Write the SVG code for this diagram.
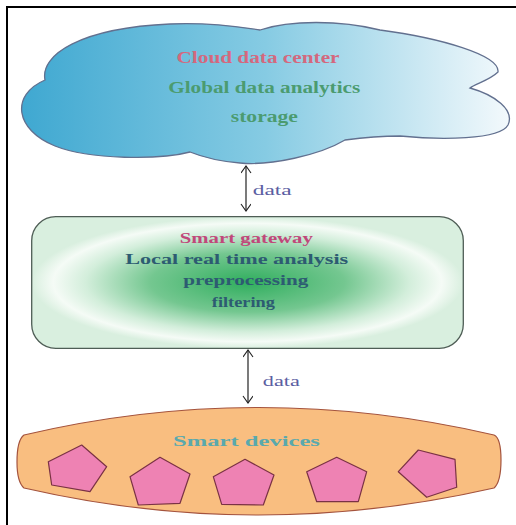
<svg xmlns="http://www.w3.org/2000/svg" width="516" height="525" viewBox="0 0 516 525">
  <defs>
    <linearGradient id="cloudFill" x1="0" y1="0" x2="1" y2="0">
      <stop offset="0" stop-color="#3fa8d1"/>
      <stop offset="0.5" stop-color="#86cbe3"/>
      <stop offset="1" stop-color="#f3f9fc"/>
    </linearGradient>
    <radialGradient id="gatewayFill" cx="0.5" cy="0.5" r="0.5">
      <stop offset="0" stop-color="#30ae5e"/>
      <stop offset="0.45" stop-color="#74c790"/>
      <stop offset="0.75" stop-color="#d3eedb"/>
      <stop offset="0.9" stop-color="#f5fbf6"/>
      <stop offset="1" stop-color="#d9efdf"/>
    </radialGradient>
    <marker id="head" markerWidth="12" markerHeight="12" refX="8" refY="5" orient="auto-start-reverse" markerUnits="userSpaceOnUse">
      <path d="M1,0 L8,5 L1,10" fill="none" stroke="#222" stroke-width="1.1"/>
    </marker>
    <style>
      text { font-family: "Liberation Serif", "Times New Roman", serif; font-weight: bold; text-anchor: middle; }
      .t-cloud { font-size: 16px; }
      .t-gw { font-size: 15px; }
      .t-dev { font-size: 15.5px; fill: #5aa9ad; }
      .t-data { font-size: 15.5px; font-weight: normal; fill: #5b5ea2; }
      .pent { fill: #ee82b3; stroke: #7a3244; stroke-width: 1.2; stroke-linejoin: round; }
      .link { stroke: #222; stroke-width: 1.2; fill: none; marker-start: url(#head); marker-end: url(#head); }
    </style>
  </defs>

  <rect width="516" height="525" fill="#ffffff"/>

  <!-- frame -->
  <path d="M7,525 V7 H516" fill="none" stroke="#000" stroke-width="2"/>

  <g id="cloud-data-center">
    <path d="M45,80 C40,55 80,28 170,24 C215,22 245,28 260,30 C290,20 340,20 380,30 C440,38 500,55 498,72 C490,80 475,84 470,88 C495,95 515,110 508,125 C500,140 440,140 400,136 C385,136 360,138 345,140 C320,155 270,166 240,163 C215,161 200,156 190,152 C160,160 90,160 55,146 C15,130 10,95 45,80 Z" fill="url(#cloudFill)" stroke="#62708f" stroke-width="1.3"/>
    <text class="t-cloud" transform="translate(258,62.5) scale(1.3,1)" textLength="125.4" lengthAdjust="spacingAndGlyphs" fill="#d4687e">Cloud data center</text>
    <text class="t-cloud" transform="translate(264.2,93) scale(1.3,1)" textLength="147.7" lengthAdjust="spacingAndGlyphs" fill="#4b9b70">Global data analytics</text>
    <text class="t-cloud" transform="translate(264.3,122) scale(1.3,1)" textLength="51.5" lengthAdjust="spacingAndGlyphs" fill="#4b9b70">storage</text>
  </g>

  <g id="smart-gateway">
    <rect x="31.7" y="216.7" width="431.6" height="131.6" rx="24" ry="24" fill="url(#gatewayFill)" stroke="#4e5d55" stroke-width="1.3"/>
    <text class="t-gw" transform="translate(246.3,243.3) scale(1.3,1)" textLength="102.3" lengthAdjust="spacingAndGlyphs" fill="#c0487a">Smart gateway</text>
    <text class="t-gw" transform="translate(236.7,264.3) scale(1.3,1)" textLength="171.5" lengthAdjust="spacingAndGlyphs" fill="#2d5b72">Local real time analysis</text>
    <text class="t-gw" transform="translate(245.8,285) scale(1.3,1)" textLength="96.2" lengthAdjust="spacingAndGlyphs" fill="#2d5b72">preprocessing</text>
    <text class="t-gw" transform="translate(243.3,306.5) scale(1.3,1)" textLength="48.5" lengthAdjust="spacingAndGlyphs" fill="#2d5b72">filtering</text>
  </g>

  <g id="smart-devices">
    <path d="M24,435 Q258,380 494,435 Q501,438 501,460 Q501,482 494,488 Q258,542 24,488 Q17,482 17,462 Q17,440 24,435 Z" fill="#f9be80" stroke="#a4533d" stroke-width="1.2"/>
    <text class="t-dev" transform="translate(246.5,446) scale(1.3,1)" textLength="113" lengthAdjust="spacingAndGlyphs">Smart devices</text>
    <polygon class="pent" points="48.3,461.7 81.7,445 106.7,466.7 90,491.7 51.7,485"/>
    <polygon class="pent" points="130,476.7 160,457.3 190,474 180,503.3 138.3,505"/>
    <polygon class="pent" points="213.3,476.7 245,459.3 274,475 263.3,505 221.7,504.3"/>
    <polygon class="pent" points="306.7,471.7 336.7,457.3 366.7,471.7 358.3,501.7 316.7,501.7"/>
    <polygon class="pent" points="398.3,471.7 418.3,450 455,459.3 456.7,487.3 426.7,497.3"/>
  </g>

  <g id="connectors">
    <line class="link" x1="246" y1="166" x2="246" y2="211"/>
    <text class="t-data" transform="translate(272.2,195) scale(1.3,1)" textLength="30" lengthAdjust="spacingAndGlyphs">data</text>
    <line class="link" x1="248" y1="350" x2="248" y2="403"/>
    <text class="t-data" transform="translate(281.3,386) scale(1.3,1)" textLength="28.5" lengthAdjust="spacingAndGlyphs">data</text>
  </g>
</svg>
